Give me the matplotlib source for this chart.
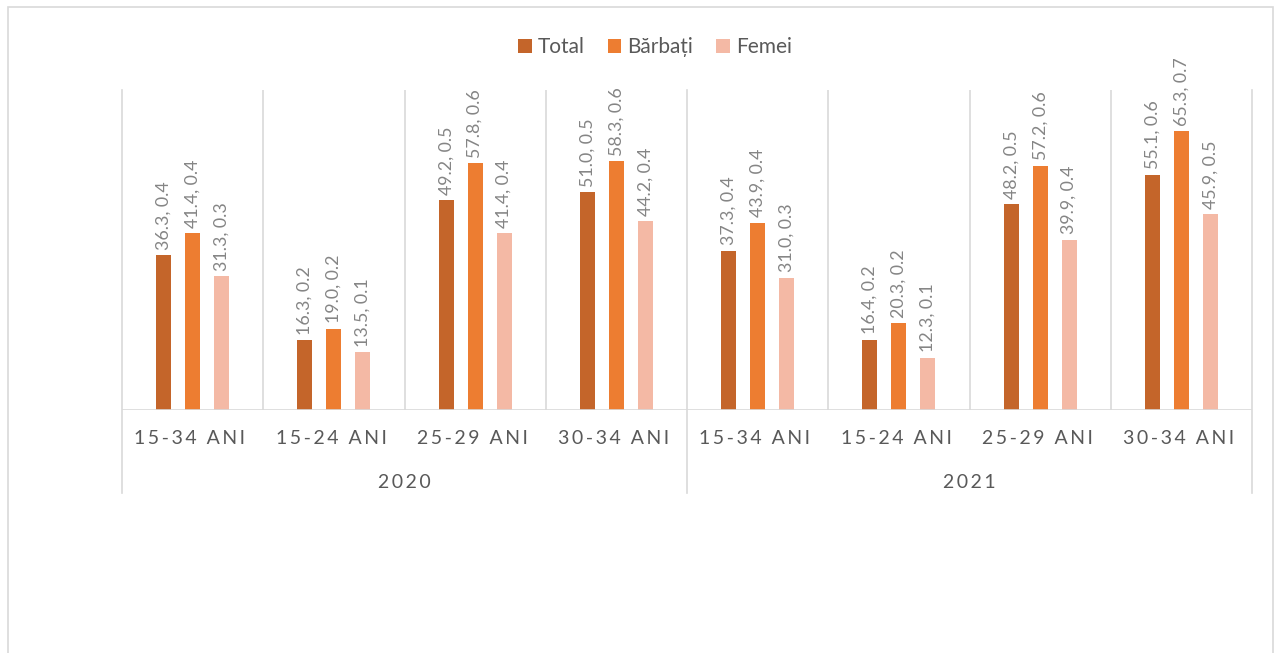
import matplotlib.pyplot as plt
import matplotlib.patches as mpatches
import numpy as np

plt.rcParams['font.family'] = ['Lato', 'DejaVu Sans']

# date
ani = ["2020", "2021"]
grupe = ["15-34 ANI", "15-24 ANI", "25-29 ANI", "30-34 ANI"]
serii = ["Total", "Bărbați", "Femei"]
total = [36.3, 16.3, 49.2, 51.0, 37.3, 16.4, 48.2, 55.1]
total_err = [0.4, 0.2, 0.5, 0.5, 0.4, 0.2, 0.5, 0.6]
barbati = [41.4, 19.0, 57.8, 58.3, 43.9, 20.3, 57.2, 65.3]
barbati_err = [0.4, 0.2, 0.6, 0.6, 0.4, 0.2, 0.6, 0.7]
femei = [31.3, 13.5, 41.4, 44.2, 31.0, 12.3, 39.9, 45.9]
femei_err = [0.3, 0.1, 0.4, 0.4, 0.3, 0.1, 0.4, 0.5]

culori = ["#C4652A", "#ED7D31", "#F4B9A5"]
gri = "#D9D9D9"
text_gri = "#595959"


def spatiat(s):
    return "\u2009".join(s)


fig = plt.figure(figsize=(12.81, 6.53), dpi=100)
# chenarul exterior
fig.patches.append(mpatches.Rectangle((8 / 1281, -0.1), 1265 / 1281, 1 - 7 / 653 + 0.1,
                                      transform=fig.transFigure, fill=False,
                                      edgecolor=gri, linewidth=1.2))
ax = fig.add_axes([122 / 1281, 1 - 410 / 653, 1130 / 1281, 320 / 653])

x = np.arange(len(total))
w = 0.106
off = 0.205
date = [(total, total_err), (barbati, barbati_err), (femei, femei_err)]
for k, (vals, errs) in enumerate(date):
    pos = x + (k - 1) * off
    ax.bar(pos, vals, width=w, color=culori[k], label=serii[k], zorder=3)
    for p, v, e in zip(pos, vals, errs):
        ax.annotate(f"{v:.1f}, {e:.1f}", (p, v), xytext=(0, 4), textcoords="offset points",
                    rotation=90, ha="center", va="bottom", fontsize=12.8, color="#858585")

ax.set_xlim(-0.5, len(total) - 0.5)
ax.set_ylim(0, 75)
for s in ax.spines.values():
    s.set_visible(False)
ax.set_xticks([])
ax.set_yticks([])

# linii de separare
for b in np.arange(0.5, len(total) - 0.5):
    if b == 3.5:
        continue
    ax.axvline(b, color=gri, linewidth=1.2, zorder=1)
for b in [-0.5, 3.5, len(total) - 0.5]:
    ax.plot([b, b], [-0.26, 1], transform=ax.get_xaxis_transform(), color=gri,
            linewidth=1.2, clip_on=False, zorder=1)
ax.axhline(0, color=gri, linewidth=1.2, zorder=4)

# etichete pe doua niveluri
for i in x:
    ax.text(i - 0.02, -0.09, spatiat(grupe[i % 4]), transform=ax.get_xaxis_transform(),
            ha="center", va="center", fontsize=14, color=text_gri)
for j, an in enumerate(ani):
    ax.text(j * 4 + 1.5, -0.225, spatiat(an), transform=ax.get_xaxis_transform(),
            ha="center", va="center", fontsize=14, color=text_gri)

leg = fig.legend(loc="center", bbox_to_anchor=(655 / 1281, 1 - 47 / 653), ncol=3,
                 frameon=False, fontsize=15, handlelength=0.65, handleheight=0.65,
                 handletextpad=0.3, columnspacing=1.1)
for t in leg.get_texts():
    t.set_color(text_gri)

plt.savefig("out.png", dpi=100)
